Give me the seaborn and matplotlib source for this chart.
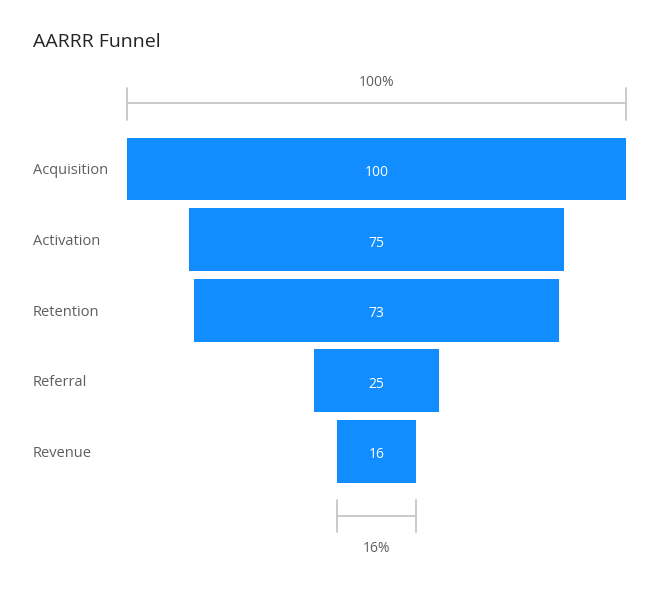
import matplotlib
matplotlib.use("Agg")
import matplotlib.pyplot as plt
import seaborn as sns
import pandas as pd

# funnel data
stages = ["Acquisition", "Activation", "Retention", "Referral", "Revenue"]
values = [100, 75, 73, 25, 16]
top_label = "100%"
bottom_label = "16%"

df = pd.DataFrame({"Stage": stages, "Value": values})

sns.set_theme(style="white")
plt.rcParams["font.family"] = ["Open Sans", "DejaVu Sans"]

W, H = 670, 595
fig = plt.figure(figsize=(W / 100, H / 100), dpi=100)
# axes spans the widest bar (px 127..626), y from px 60..570
ax = fig.add_axes([127 / W, 1 - 570 / H, 499 / W, 510 / H])

sns.barplot(data=df, x="Value", y="Stage", orient="h", color="#118DFF",
            saturation=1, width=0.89, ax=ax)

# center each bar on zero to form the funnel
for p in ax.patches:
    p.set_x(-p.get_width() / 2)
    p.set_edgecolor("none")

for i, v in enumerate(values):
    ax.text(0, i + 0.02, str(v), ha="center", va="center_baseline", color="white", fontsize=10)

ax.set_xlim(-50, 50)
px = lambda y: (y - 169) / 70.6
ax.set_ylim(px(570), px(60))
ax.set_xlabel("")
ax.set_ylabel("")
ax.set_xticks([])
sns.despine(ax=ax, left=True, bottom=True)

ax.tick_params(axis="y", length=0, pad=94 * 0.72, labelsize=10.5, labelcolor="#605E5C")
for lab in ax.get_yticklabels():
    lab.set_ha("left")

grey = "#C8C6C4"
# top bracket (first stage)
v0 = values[0]
ax.plot([-v0 / 2, v0 / 2], [px(103)] * 2, color=grey, lw=1.3, clip_on=False)
for xx in (-v0 / 2, v0 / 2):
    ax.plot([xx, xx], [px(88), px(120)], color=grey, lw=1.3, clip_on=False)
ax.text(0, px(80), top_label, ha="center", va="center_baseline", color="#605E5C", fontsize=10)

# bottom bracket (last stage)
vl = values[-1]
ax.plot([-vl / 2, vl / 2], [px(516)] * 2, color=grey, lw=1.3, clip_on=False)
for xx in (-vl / 2, vl / 2):
    ax.plot([xx, xx], [px(500), px(532)], color=grey, lw=1.3, clip_on=False)
ax.text(0, px(546), bottom_label, ha="center", va="center_baseline", color="#605E5C", fontsize=10)

fig.text(33 / W, 1 - 47 / H, "AARRR Funnel", ha="left", va="baseline",
         fontsize=14, color="#252423")

fig.savefig("out.png", dpi=100, facecolor="white")
